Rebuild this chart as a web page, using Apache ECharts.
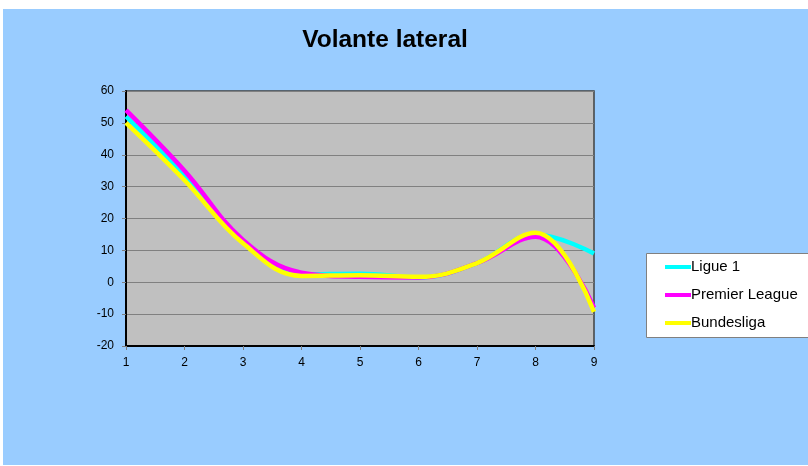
<!DOCTYPE html>
<html>
<head>
<meta charset="utf-8">
<style>
  html, body { margin: 0; padding: 0; background: #ffffff; }
  #chart { width: 808px; height: 466px; }
</style>
<script src="https://cdn.jsdelivr.net/npm/echarts@6/dist/echarts.min.js"></script>
</head>
<body>
<div id="chart"></div>
<script>
// Positions along the horizontal axis
const categories = ['1', '2', '3', '4', '5', '6', '7', '8', '9'];

// Values for each league
const ligue1 = [52, 33.5, 12.5, 2.5, 2.7, 1.5, 6, 15, 9];
const premierLeague = [54, 35, 13.3, 3, 1.7, 1.5, 6, 14.3, -8];
const bundesliga = [50, 32, 12.2, 2, 2.2, 1.7, 6, 15.5, -9.3];

// Vertical axis range
const yMin = -20;
const yMax = 60;
const yStep = 10;

const FONT = 'Liberation Sans, Arial, sans-serif';

const chart = echarts.init(document.getElementById('chart'), null, { renderer: 'canvas' });

function lineSeries(name, data, color) {
  return {
    name: name,
    type: 'line',
    data: data,
    smooth: 0.4,
    showSymbol: false,
    symbol: 'none',
    lineStyle: { color: color, width: 4.5 },
    itemStyle: { color: color },
    emphasis: { disabled: true }
  };
}

chart.setOption({
  backgroundColor: '#ffffff',
  animation: false,
  graphic: [
    {
      type: 'rect', z: -10, silent: true,
      shape: { x: 3, y: 9, width: 805, height: 456 },
      style: { fill: '#99CCFF' }
    },
    {
      type: 'rect', z: 0, silent: true,
      shape: { x: 646.5, y: 253.5, width: 170, height: 84 },
      style: { fill: '#ffffff', stroke: '#808080', lineWidth: 1 }
    }
  ],
  title: {
    text: 'Volante lateral',
    left: 380,
    textAlign: 'center',
    top: 23,
    textStyle: { fontFamily: FONT, fontSize: 24.5, fontWeight: 'bold', color: '#000000' }
  },
  legend: {
    orient: 'vertical',
    left: 665,
    top: 259,
    padding: 0,
    icon: 'rect',
    itemWidth: 26,
    itemHeight: 4,
    itemGap: 12,
    z: 5,
    textStyle: { fontFamily: FONT, fontSize: 15, color: '#000000', lineHeight: 16, padding: [0, 0, 0, -5] },
    data: ['Ligue 1', 'Premier League', 'Bundesliga']
  },
  grid: {
    left: 126,
    top: 91,
    width: 468,
    height: 255,
    show: true,
    backgroundColor: '#C0C0C0',
    borderColor: '#404040',
    borderWidth: 1.5,
    containLabel: false
  },
  xAxis: {
    type: 'category',
    data: categories,
    boundaryGap: false,
    axisLine: { show: true, onZero: false, lineStyle: { color: '#000000', width: 2 } },
    axisTick: { show: true, alignWithLabel: true, length: 4, lineStyle: { color: '#808080' } },
    axisLabel: { fontFamily: FONT, fontSize: 12, color: '#000000', margin: 11 },
    splitLine: { show: false }
  },
  yAxis: {
    type: 'value',
    min: yMin,
    max: yMax,
    interval: yStep,
    axisLine: { show: true, lineStyle: { color: '#000000', width: 2 } },
    axisTick: { show: true, length: 4, lineStyle: { color: '#808080' } },
    axisLabel: { fontFamily: FONT, fontSize: 12, color: '#000000', margin: 12 },
    splitLine: { show: true, lineStyle: { color: '#808080', width: 1 } }
  },
  series: [
    lineSeries('Ligue 1', ligue1, '#00FFFF'),
    lineSeries('Premier League', premierLeague, '#FF00FF'),
    lineSeries('Bundesliga', bundesliga, '#FFFF00')
  ]
});
</script>
</body>
</html>
